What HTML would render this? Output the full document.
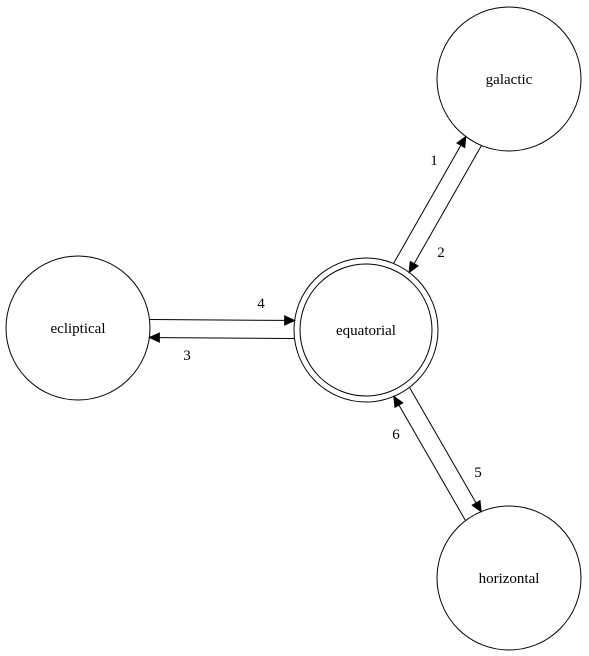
<!DOCTYPE html>
<html><head><meta charset="utf-8"><style>
html,body{margin:0;padding:0;background:#fff;width:589px;height:656px;overflow:hidden}
svg text{font-family:"Liberation Serif",serif;font-size:15px}
</style></head><body>
<svg id="g" width="589" height="656" viewBox="0 0 589 656"></svg>
<script>
const nodeNames=["galactic","ecliptical","equatorial","horizontal"];
const nodeX=[509,78,366,509];
const nodeY=[79,328,330,578];
const edgeFrom=[2,0,1,2,2,3];
const edgeTo=[0,2,2,1,3,2];
const edgeLabels=["1","2","4","3","5","6"];
const edgeOffsets=[-9,-9,-9,-9,-9,-9];
const labelPos=[[434,165],[441,257],[261,308],[187,360],[478,477],[396,439]];
const NS="http://www.w3.org/2000/svg";
const svg=document.getElementById('g');
function mk(t,a){const e=document.createElementNS(NS,t);for(const k in a)e.setAttribute(k,a[k]);svg.appendChild(e);return e;}
const R=72;
nodeNames.forEach((n,i)=>{
  const c=mk('circle',{cx:nodeX[i],cy:nodeY[i],r:R,fill:'none',stroke:'#000','stroke-width':1});
  
  
  if(n==='equatorial'){
    const c2=mk('circle',{cx:nodeX[i],cy:nodeY[i],r:R-6,fill:'none',stroke:'#000','stroke-width':1});
    
    
  }
  const t=mk('text',{x:nodeX[i],y:nodeY[i]+5,'text-anchor':'middle'});
  t.textContent=n;
  
  
});
edgeFrom.forEach((f,k)=>{
  const t=edgeTo[k];
  const dx=nodeX[t]-nodeX[f],dy=nodeY[t]-nodeY[f],L=Math.hypot(dx,dy);
  const ux=dx/L,uy=dy/L,px=-uy,py=ux,o=edgeOffsets[k];
  const sOff=Math.sqrt(R*R-o*o);
  const x1=nodeX[f]+ux*sOff+px*o,y1=nodeY[f]+uy*sOff+py*o;
  const x2=nodeX[t]-ux*sOff+px*o,y2=nodeY[t]-uy*sOff+py*o;
  const ax=x2-ux*10,ay=y2-uy*10;
  const l=mk('line',{x1:x1,y1:y1,x2:ax,y2:ay,stroke:'#000','stroke-width':1});
  
  
  const h=mk('polygon',{points:`${x2},${y2} ${ax+px*4.5},${ay+py*4.5} ${ax-px*4.5},${ay-py*4.5}`,fill:'#000',stroke:'#000'});
  
  
  const tx=mk('text',{x:labelPos[k][0],y:labelPos[k][1],'text-anchor':'middle'});
  tx.textContent=edgeLabels[k];
  
  
});
</script>
</body></html>
